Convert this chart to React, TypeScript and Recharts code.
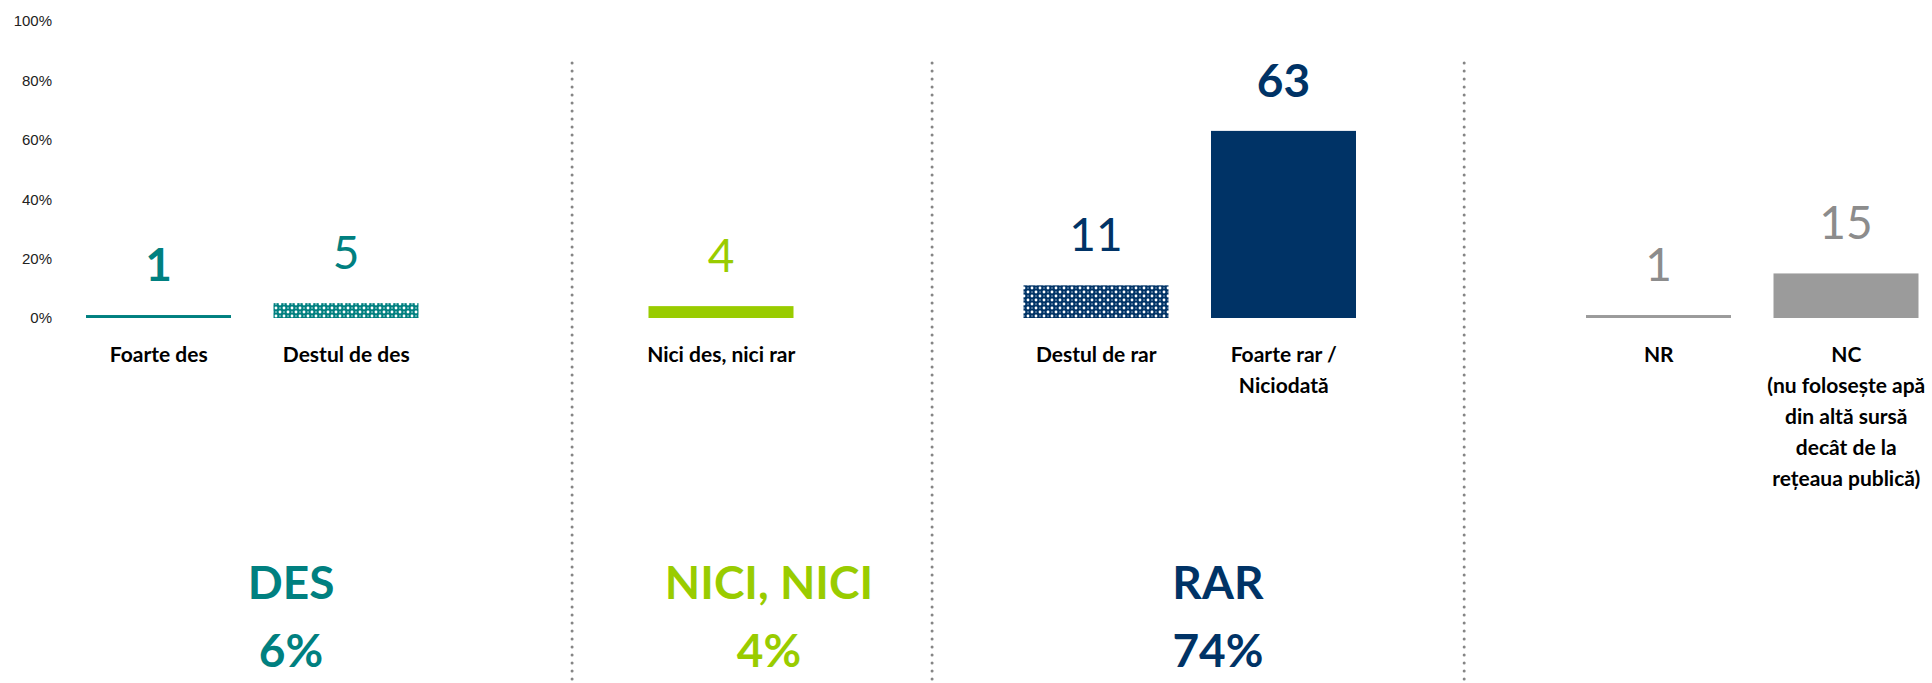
import React from "react";
import { BarChart, Bar, XAxis, YAxis, ReferenceLine, ReferenceDot } from "recharts";

// ---- data ----
const categories = [
  "Foarte des",
  "Destul de des",
  "",
  "Nici des, nici rar",
  "",
  "Destul de rar",
  "Foarte rar /\nNiciodată",
  "",
  "NR",
  "NC\n(nu folosește apă\ndin altă sursă\ndecât de la\nrețeaua publică)",
];
const values: (number | null)[] = [1, 5, null, 4, null, 11, 63, null, 1, 15];
const yTicks = [0, 20, 40, 60, 80, 100];

const groupNames = ["DES", "NICI, NICI", "RAR"];
const groupTotals = [6, 4, 74];
// positions on the hidden [0, 9] guide axis
const groupAt = [1.085, 3.379, 5.534];
const separatorsAt = [2.434, 4.162, 6.716];

// ---- styles ----
const TEAL = "#008080";
const LIME = "#99CC00";
const NAVY = "#003366";
const GRAY = "#9B9B9B";
const GRAY_TXT = "#8C8C8C";
const barFills = [TEAL, "url(#patTeal)", "none", LIME, "none", "url(#patNavy)", NAVY, "none", GRAY, GRAY];
const labelColors = [TEAL, TEAL, "none", LIME, "none", NAVY, NAVY, "none", GRAY_TXT, GRAY_TXT];
const labelBold = [true, false, false, false, false, false, true, false, false, false];
const groupColors = [TEAL, LIME, NAVY];

const data = categories.map((c, i) => ({ cat: c, value: values[i] }));

const FONT = "Lato, 'Noto Sans', sans-serif";

const XTick = (props: any) => {
  const { x, y, payload } = props;
  if (!payload.value) return null;
  const lines = String(payload.value).split("\n");
  return (
    <text x={x} y={y + 44} textAnchor="middle" fontFamily={FONT} fontWeight={700} fontSize={21} fill="#000">
      {lines.map((l: string, i: number) => (
        <tspan key={i} x={x} dy={i === 0 ? 0 : 31}>
          {l}
        </tspan>
      ))}
    </text>
  );
};

const BarShape = (props: any) => {
  const { x, y, width, height, payload } = props;
  const i = categories.indexOf(payload.cat);
  if (payload.value === null || payload.value === undefined || i < 0) return null;
  return (
    <g>
      <rect x={x} y={y} width={width} height={height} fill={barFills[i]} />
      <text
        x={x + width / 2}
        y={y - 34}
        textAnchor="middle"
        fontFamily={FONT}
        fontWeight={labelBold[i] ? 700 : 400}
        fontSize={46}
        fill={labelColors[i]}
      >
        {payload.value}
      </text>
    </g>
  );
};

const GroupLabel = (props: any) => {
  const { viewBox, idx } = props;
  const cx = viewBox.x + (viewBox.width || 0) / 2;
  const cy = viewBox.y + (viewBox.height || 0) / 2;
  return (
    <text x={cx} y={cy} textAnchor="middle" fontFamily={FONT} fontWeight={700} fontSize={46} fill={groupColors[idx]}>
      <tspan x={cx} dy={0}>{groupNames[idx]}</tspan>
      <tspan x={cx} dy={68}>{groupTotals[idx] + "%"}</tspan>
    </text>
  );
};

const Pattern = ({ id, base, mid }: { id: string; base: string; mid: string }) => (
  <pattern id={id} width="8" height="8" patternUnits="userSpaceOnUse">
    <rect width="8" height="8" fill={base} />
    <circle cx="0" cy="0" r="1.4" fill="#fff" />
    <circle cx="8" cy="0" r="1.4" fill="#fff" />
    <circle cx="0" cy="8" r="1.4" fill="#fff" />
    <circle cx="8" cy="8" r="1.4" fill="#fff" />
    <circle cx="4" cy="4" r="1.4" fill="#fff" />
    <rect x="3.5" y="0" width="1" height="1" fill={mid} />
    <rect x="0" y="3.5" width="1" height="1" fill={mid} />
    <rect x="7" y="3.5" width="1" height="1" fill={mid} />
    <rect x="3.5" y="7" width="1" height="1" fill={mid} />
  </pattern>
);

export default function App() {
  return (
    <div
      style={{
        position: "fixed",
        left: 0,
        top: 0,
        width: 1932,
        height: 683,
        overflow: "hidden",
        background: "#fff",
      }}
    >
      <BarChart width={1945} height={683} data={data} margin={{ top: 21, right: 5, left: 5, bottom: 305 }}>
        <defs>
          <Pattern id="patTeal" base={TEAL} mid="#bfe0e0" />
          <Pattern id="patNavy" base={NAVY} mid="#8fa8c4" />
        </defs>
        <XAxis
          dataKey="cat"
          axisLine={false}
          tickLine={false}
          tickSize={0}
          tickMargin={0}
          height={60}
          interval={0}
          tick={<XTick />}
        />
        <XAxis xAxisId="sep" type="number" domain={[0, 9]} allowDataOverflow hide />
        <YAxis
          domain={[0, 100]}
          ticks={yTicks}
          width={60}
          axisLine={false}
          tickLine={false}
          tickSize={0}
          tickMargin={13}
          tickFormatter={(v: number) => `${v}%`}
          tick={{ fontFamily: "'Liberation Sans', Arial, sans-serif", fontSize: 15, fill: "#222" }}
          interval={0}
        />
        {separatorsAt.map((s, i) => (
          <ReferenceLine
            key={"sep" + i}
            xAxisId="sep"
            segment={[
              { x: s, y: 85.9 },
              { x: s, y: -125 },
            ]}
            stroke="#858585"
            strokeWidth={3}
            strokeDasharray="0 8"
            strokeLinecap="round"
            ifOverflow="visible"
          />
        ))}
        <Bar dataKey="value" barSize={145} isAnimationActive={false} shape={<BarShape />} />
        {groupAt.map((g, i) => (
          <ReferenceDot
            key={"g" + i}
            xAxisId="sep"
            x={g}
            y={-94.6}
            r={0}
            fill="none"
            stroke="none"
            ifOverflow="visible"
            label={<GroupLabel idx={i} />}
          />
        ))}
      </BarChart>
    </div>
  );
}
